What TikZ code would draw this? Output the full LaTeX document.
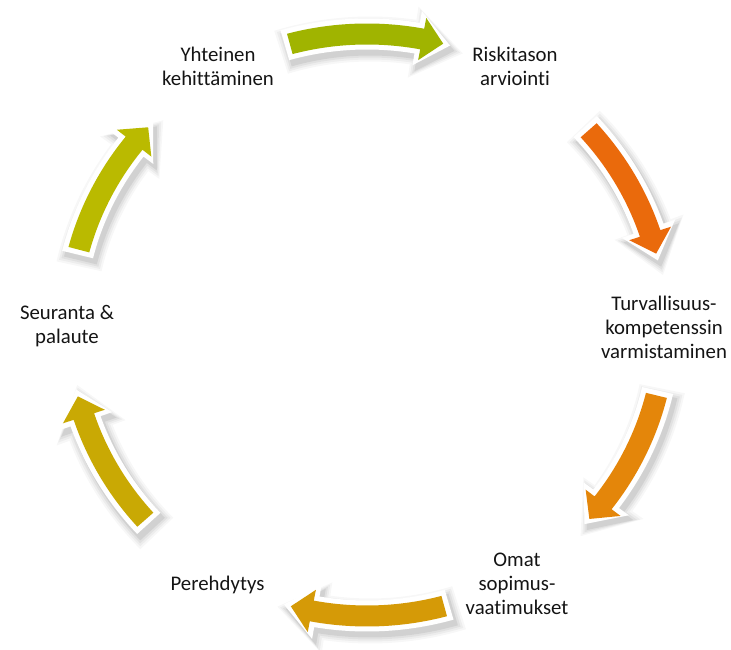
\documentclass[tikz,border=0pt]{standalone}
\usepackage{fontspec}
\setmainfont[Ligatures=NoCommon]{Carlito}
\definecolor{cTop}{HTML}{A0B400}
\definecolor{cUR}{HTML}{EA6A0C}
\definecolor{cLR}{HTML}{E4860A}
\definecolor{cBot}{HTML}{D59A07}
\definecolor{cLL}{HTML}{C9A904}
\definecolor{cUL}{HTML}{BABA00}
\definecolor{txt}{HTML}{141414}
\def\R{291}\def\aw{10.5}\def\aW{21.5}\def\HL{21}
\newcommand\arrcalc[3]{%
 \pgfmathsetmacro\ta{#1+#3/\R*57.2958}%
 \pgfmathsetmacro\tb{#2-1.4*#3/\R*57.2958}%
 \pgfmathsetmacro\th{#2+(\HL+#3)/\R*57.2958}%
 \pgfmathsetmacro\ro{\R+\aw+#3}%
 \pgfmathsetmacro\ri{\R-\aw-#3}%
 \pgfmathsetmacro\rO{\R+\aW+1.2*#3}%
 \pgfmathsetmacro\rI{\R-\aW-1.2*#3}%
}
\def\arrp{(\ta:\ro) arc[start angle=\ta, end angle=\th, radius=\ro] -- (\th:\rO) -- (\tb:\R) -- (\th:\rI) -- (\th:\ri) arc[start angle=\th, end angle=\ta, radius=\ri] -- cycle}
\newcommand\cycarrow[3]{%
 \foreach \e/\op in {12/0.03,10/0.04,8/0.05,6/0.07}{%
   \arrcalc{#1}{#2}{\e}%
   \fill[black, opacity=\op, shift={(3,-5)}] \arrp;
 }%
 \arrcalc{#1}{#2}{5}%
 \fill[white] \arrp;
 \arrcalc{#1}{#2}{0}%
 \fill[#3] \arrp;
}
\begin{document}
\begin{tikzpicture}[x=1pt,y=1pt,
  lbl/.style={font=\fontsize{20.8}{24}\selectfont, align=center, inner sep=0pt, text=txt}]
\useasboundingbox (0,0) rectangle (731,650);
\begin{scope}[shift={(367,325)}, xscale=1.025]
 \cycarrow{105}{75.2}{cTop}
 \cycarrow{42}{14.2}{cUR}
 \cycarrow{-14}{-41.8}{cLR}
 \cycarrow{-75}{-104.8}{cBot}
 \cycarrow{-138}{-165.8}{cLL}
 \cycarrow{165}{137.2}{cUL}
\end{scope}
\node[lbl] (yht) at (218,584) {Yhteinen\\kehittäminen};
\node[lbl] (ris) at (515,584) {Riskitason\\arviointi};
\node[lbl] (tur) at (664,323) {Turvallisuus-\\kompetenssin\\varmistaminen};
\node[lbl] (oma) at (517,66.5) {Omat\\sopimus-\\vaatimukset};
\node[lbl] (per) at (217.5,65) {Perehdytys};
\node[lbl] (seu) at (67,324) {Seuranta \&\\palaute};
\end{tikzpicture}
\end{document}
